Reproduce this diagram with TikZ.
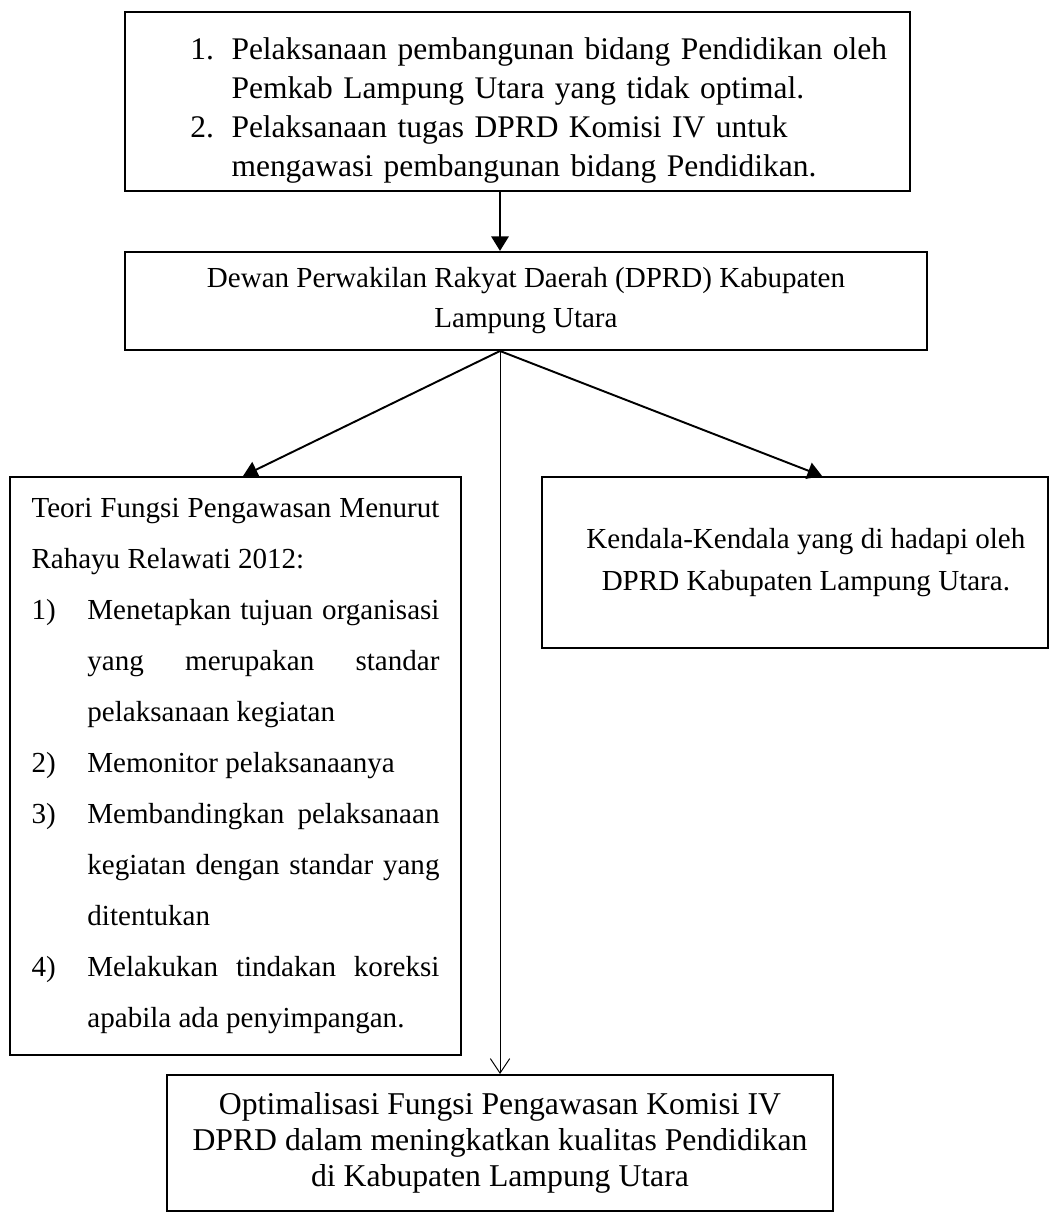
\documentclass[tikz,border=0pt]{standalone}
\usepackage{fontspec}
\setmainfont{Liberation Serif}
\usetikzlibrary{arrows.meta, positioning}

\newcommand{\hangitem}[3]{\par\noindent\hangindent=#1\hangafter=1\makebox[#1][l]{#2}#3\par}

\begin{document}
\begin{tikzpicture}[
    x=0.413pt, y=-0.413pt,
    box/.style={rectangle, draw, thick, inner sep=0pt},
    problem/.style={box, minimum width=324.2pt, minimum height=73.9pt, text width=322.2pt, inner xsep=1pt, align=left, font=\fontsize{13}{16.1}\selectfont},
    council/.style={box, minimum width=331.2pt, minimum height=40.5pt, align=center, font=\fontsize{12}{16.5}\selectfont},
    theory/.style={box, minimum width=186.3pt, minimum height=238.7pt, text width=168.5pt, inner xsep=8.9pt, align=justify, font=\fontsize{12}{21.1}\selectfont},
    obstacle/.style={box, minimum width=209pt, minimum height=70.6pt, align=center, font=\fontsize{12}{17.35}\selectfont},
    outcome/.style={box, minimum width=275pt, minimum height=56.2pt, align=center, font=\fontsize{13.1}{14.75}\selectfont},
    arrow/.style={thick, -{Triangle[length=6pt, width=7pt]}},
    guide/.style={thin, -{Straight Barb[length=6pt, width=8pt]}}
]
\useasboundingbox (0,0) rectangle (1061,1213);

% Nodes
\coordinate (stem) at (500,0);
\node (issue) [problem] at (517.5,101.5) {\leftskip=26pt
    \hangitem{17pt}{1.}{Pelaksanaan pembangunan bidang Pendidikan oleh\newline Pemkab Lampung Utara yang tidak optimal.}
    \hangitem{17pt}{2.}{Pelaksanaan tugas DPRD Komisi IV untuk\newline mengawasi pembangunan bidang Pendidikan.}};
\node (dprd) [council] at (526,301) {Dewan Perwakilan Rakyat Daerah (DPRD) Kabupaten\\Lampung Utara};
\node (theory) [theory] at (235.5,766) {\hyphenpenalty=10000
    Teori Fungsi Pengawasan Menurut\linebreak Rahayu Relawati 2012:
    \hangitem{23.1pt}{1)}{Menetapkan tujuan organisasi\linebreak yang merupakan standar\linebreak pelaksanaan kegiatan}
    \hangitem{23.1pt}{2)}{Memonitor pelaksanaanya}
    \hangitem{23.1pt}{3)}{Membandingkan pelaksanaan\linebreak kegiatan dengan standar yang\linebreak ditentukan}
    \hangitem{23.1pt}{4)}{Melakukan tindakan koreksi\linebreak apabila ada penyimpangan.}};
\node (obstacle) [obstacle] at (795,562.5) {\hspace*{9pt}Kendala-Kendala yang di hadapi oleh\\\hspace*{9pt}DPRD Kabupaten Lampung Utara.};
\node (outcome) [outcome] at (500,1143) {Optimalisasi Fungsi Pengawasan Komisi IV\\DPRD dalam meningkatkan kualitas Pendidikan\\di Kabupaten Lampung Utara};

% Connections
\draw [arrow, very thick] (issue.south -| stem) -- (dprd.north -| stem);
\draw [arrow] (dprd.south -| stem) -- ([xshift=3.1pt]theory.north);
\draw [arrow] (dprd.south -| stem) -- ([xshift=11.2pt]obstacle.north);
\draw [guide] (dprd.south -| stem) -- (outcome.north);

\end{tikzpicture}
\end{document}
